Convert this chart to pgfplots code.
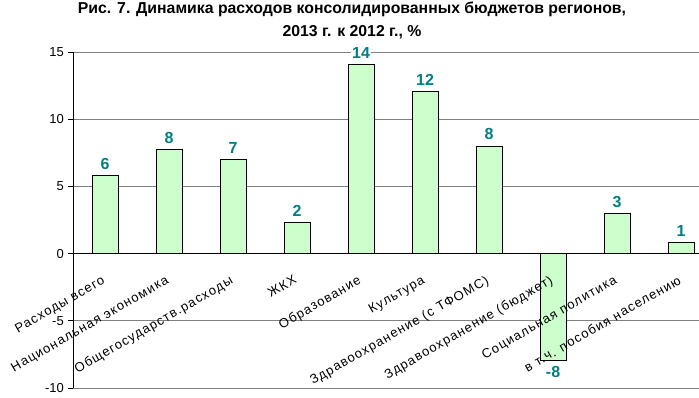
\documentclass[border=0pt]{standalone}
\usepackage{pgfplots}
\pgfplotsset{compat=1.18}
\usepackage{fontspec}
\setmainfont{Liberation Sans}
\newfontfamily\catfont[LetterSpace=9]{Liberation Sans}
\definecolor{barfill}{HTML}{CCFFCC}
\definecolor{labteal}{HTML}{008080}
\definecolor{gridgray}{HTML}{808080}
\tikzset{catlab/.style={rotate=30, anchor=north east, inner sep=0pt, font=\catfont\fontsize{13}{13}\selectfont}}
\newcommand{\cat}[2]{\node[catlab] at ([xshift=-4pt,yshift=-21pt]axis cs:#1,0) {#2};}
\begin{document}
\begin{tikzpicture}[x=1pt,y=1pt]
\useasboundingbox (0,0) rectangle (699,397);
\node[anchor=base, font=\bfseries\fontsize{15.8}{16}\selectfont] at (352,383) {Рис. 7. Динамика расходов консолидированных бюджетов регионов,};
\node[anchor=base, font=\bfseries\fontsize{15.8}{16}\selectfont] at (352,360) {2013 г. к 2012 г., \%};
\begin{axis}[
  at={(73pt,9pt)}, anchor=south west,
  scale only axis, width=626pt, height=336pt,
  xmin=-0.5, xmax=9.28, ymin=-10, ymax=15,
  axis x line=middle, axis y line=left,
  axis line style={-, black, line width=0.8pt},
  ytick={-10,-5,0,5,10,15},
  ymajorgrids, grid style={gridgray, line width=0.8pt},
  tick align=outside, major tick length=5pt,
  ytick style={black, line width=0.8pt},
  xtick=data, xtick style={draw=none}, xticklabels={},
  yticklabel style={font=\fontsize{13}{13}\selectfont, inner sep=0pt, xshift=-4pt},
  /pgf/number format/assume math mode=true,
  ybar, bar width=26pt,
  nodes near coords,
  nodes near coords style={font=\bfseries\fontsize{16}{16}\selectfont, text=labteal, fill=white, inner sep=1pt, outer ysep=5pt,
    /pgf/number format/fixed, /pgf/number format/precision=0},
  clip=false,
]
\addplot[fill=barfill, draw=black, line width=0.8pt] coordinates {
(0,5.82) (1,7.76) (2,7.01) (3,2.31) (4,14.05) (5,12.04) (6,8.0) (7,-7.96) (8,3.0) (9,0.82)
};
\cat{0}{Расходы всего}
\cat{1}{Национальная экономика}
\cat{2}{Общегосударств.расходы}
\cat{3}{ЖКХ}
\cat{4}{Образование}
\cat{5}{Культура}
\cat{6}{Здравоохранение (с ТФОМС)}
\cat{7}{Здравоохранение (бюджет)}
\cat{8}{Социальная политика}
\cat{9}{в т.ч. пособия населению}
\end{axis}
\end{tikzpicture}
\end{document}
